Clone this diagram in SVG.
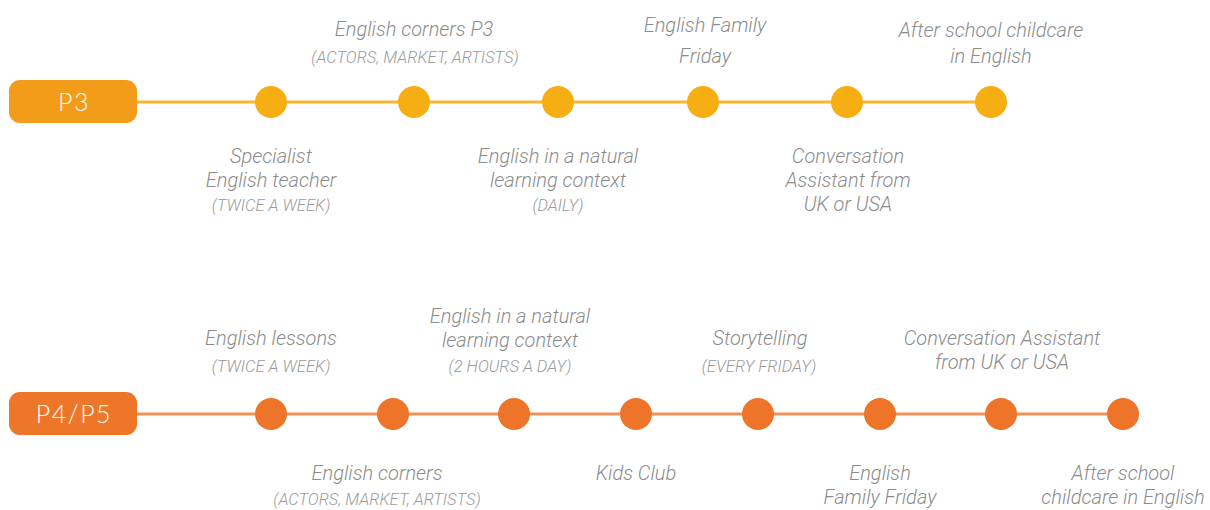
<svg xmlns="http://www.w3.org/2000/svg" width="1210" height="510" viewBox="0 0 1210 510">
<style>
.t{font-family:Roboto,"Liberation Sans",sans-serif;font-style:italic;font-weight:300;fill:#8c8c8c;text-anchor:middle}
.m{font-size:20px}
.s{font-size:16.5px;fill:#9a9a9a}
.lbl{font-family:Lato,"Open Sans",sans-serif;font-weight:300;font-size:25px;letter-spacing:1.5px;fill:#fff;text-anchor:middle}
.c3{fill:#F7AE12}
.c4{fill:#ED7428}
</style>
<rect width="1210" height="510" fill="#fff"/>
<g id="connectors">
<line x1="128" y1="102" x2="991" y2="102" stroke="#F7B531" stroke-width="3"/>
<line x1="128" y1="414" x2="1123" y2="414" stroke="#F0915A" stroke-width="3"/>
</g>
<g id="p3">
<rect x="9" y="80" width="128" height="43" rx="11" fill="#F39C1A"/>
<text class="lbl" x="74" y="111">P3</text>
</g>
<g id="p4p5">
<rect x="9" y="392" width="128" height="43" rx="11" fill="#EE7628"/>
<text class="lbl" x="74" y="423">P4/P5</text>
</g>
<g id="p3-n1"><circle class="c3" cx="271" cy="102" r="16"/>
<text class="t m" x="271" y="163">Specialist</text><text class="t m" x="271" y="187">English teacher</text><text class="t s" x="271" y="211">(TWICE A WEEK)</text></g>
<g id="p3-n2"><circle class="c3" cx="414" cy="102" r="16"/>
<text class="t m" x="414" y="36">English corners P3</text><text class="t s" x="415" y="63">(ACTORS, MARKET, ARTISTS)</text></g>
<g id="p3-n3"><circle class="c3" cx="558" cy="102" r="16"/>
<text class="t m" x="558" y="163">English in a natural</text><text class="t m" x="558" y="187">learning context</text><text class="t s" x="558" y="211">(DAILY)</text></g>
<g id="p3-n4"><circle class="c3" cx="703" cy="102" r="16"/>
<text class="t m" x="705" y="32">English Family</text><text class="t m" x="705" y="63">Friday</text></g>
<g id="p3-n5"><circle class="c3" cx="847" cy="102" r="16"/>
<text class="t m" x="848" y="163">Conversation</text><text class="t m" x="848" y="187">Assistant from</text><text class="t m" x="848" y="211">UK or USA</text></g>
<g id="p3-n6"><circle class="c3" cx="991" cy="102" r="16"/>
<text class="t m" x="991" y="37">After school childcare</text><text class="t m" x="991" y="63">in English</text></g>
<g id="p4-n1"><circle class="c4" cx="271" cy="414" r="16"/>
<text class="t m" x="271" y="345">English lessons</text><text class="t s" x="271" y="372">(TWICE A WEEK)</text></g>
<g id="p4-n2"><circle class="c4" cx="393" cy="414" r="16"/>
<text class="t m" x="377" y="480">English corners</text><text class="t s" x="377" y="505">(ACTORS, MARKET, ARTISTS)</text></g>
<g id="p4-n3"><circle class="c4" cx="514" cy="414" r="16"/>
<text class="t m" x="510" y="323">English in a natural</text><text class="t m" x="510" y="347">learning context</text><text class="t s" x="510" y="372">(2 HOURS A DAY)</text></g>
<g id="p4-n4"><circle class="c4" cx="636" cy="414" r="16"/>
<text class="t m" x="636" y="480">Kids Club</text></g>
<g id="p4-n5"><circle class="c4" cx="758" cy="414" r="16"/>
<text class="t m" x="760" y="345">Storytelling</text><text class="t s" x="759" y="372">(EVERY FRIDAY)</text></g>
<g id="p4-n6"><circle class="c4" cx="880" cy="414" r="16"/>
<text class="t m" x="880" y="480">English</text><text class="t m" x="880" y="504">Family Friday</text></g>
<g id="p4-n7"><circle class="c4" cx="1001" cy="414" r="16"/>
<text class="t m" x="1002" y="345">Conversation Assistant</text><text class="t m" x="1002" y="369">from UK or USA</text></g>
<g id="p4-n8"><circle class="c4" cx="1123" cy="414" r="16"/>
<text class="t m" x="1123" y="480">After school</text><text class="t m" x="1123" y="504">childcare in English</text></g>
</svg>
